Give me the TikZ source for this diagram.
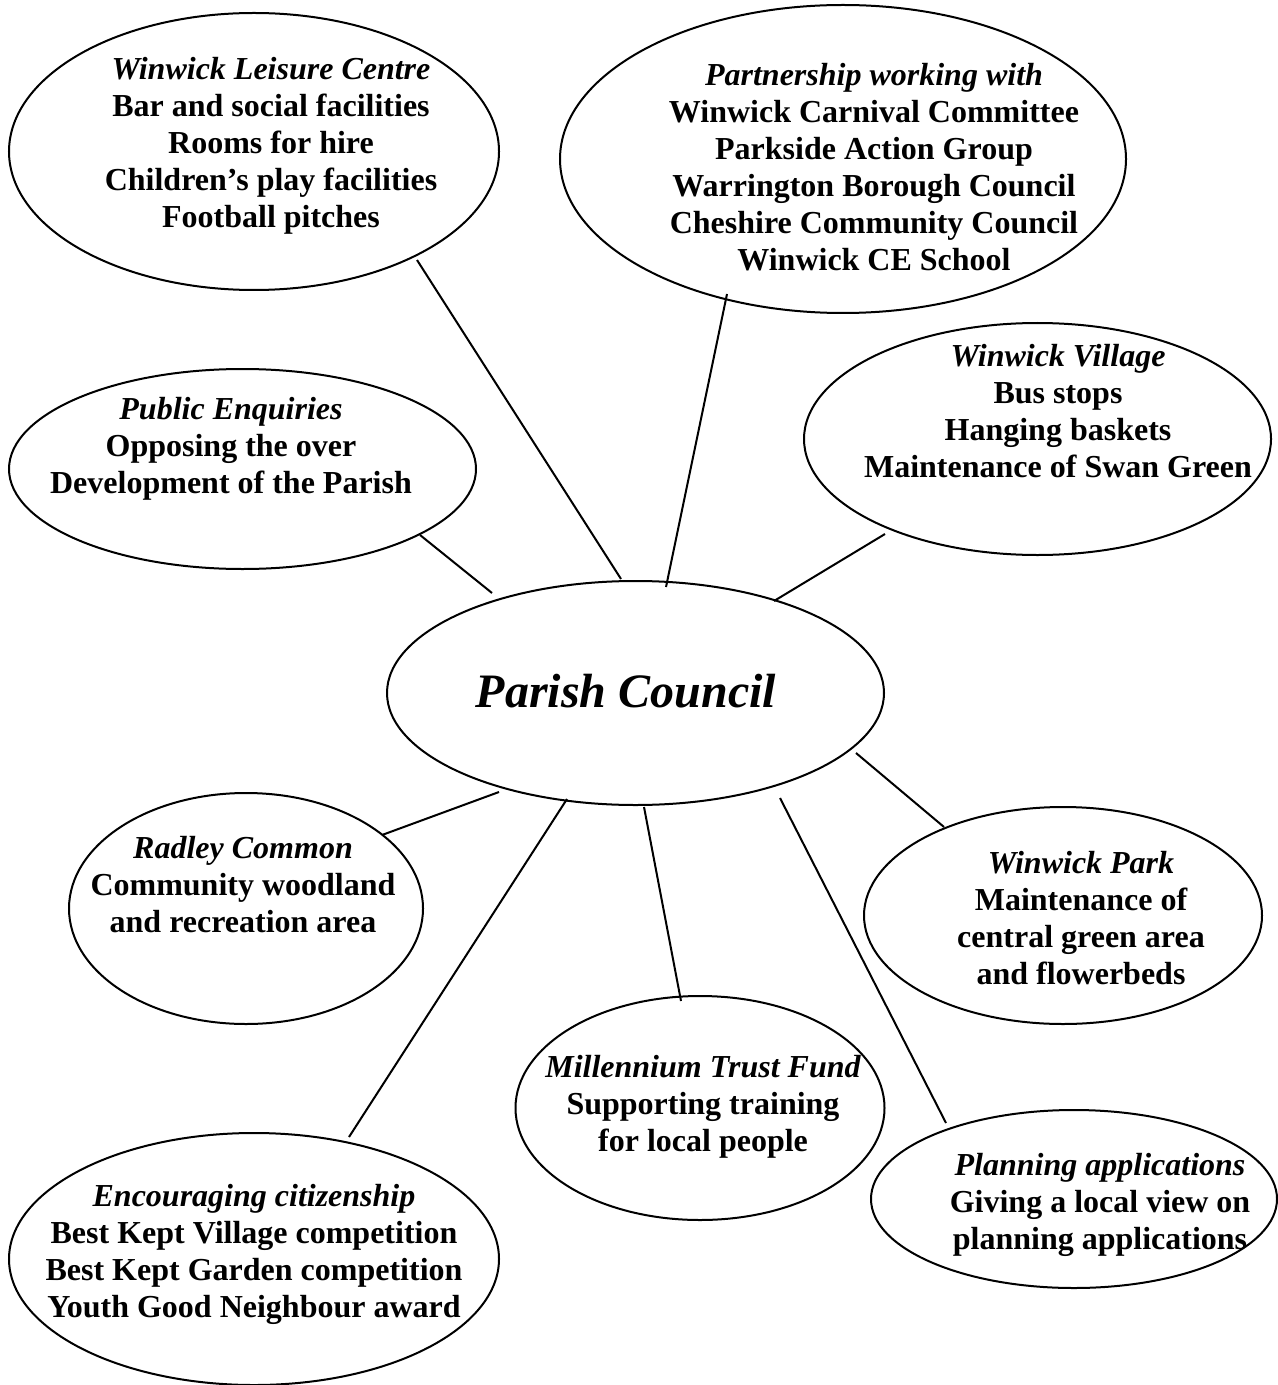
\documentclass[tikz,border=0pt]{standalone}
\usepackage{fontspec}
\setmainfont{Liberation Serif}
\usetikzlibrary{shapes.geometric}
\tikzset{
  oval/.style={draw, ellipse, line width=1pt, inner sep=0pt},
  hd/.style={font=\fontsize{16}{18}\selectfont\bfseries\itshape, anchor=base, inner sep=0pt},
  bd/.style={font=\fontsize{16}{18}\selectfont\bfseries, anchor=base, inner sep=0pt},
  conn/.style={line width=1pt},
}
\newcommand\ovlines[5]{%
  \node[hd] (#1-0) at (#2,#3) {#4};
  \foreach \t [count=\i] in {#5} {\node[bd] (#1-\i) at (#2, #3+\i*37) {\t};}
}
\begin{document}
\begin{tikzpicture}[x=0.5pt,y=-0.5pt]
\useasboundingbox (0,0) rectangle (1278,1385);
% ellipses
\node[oval, minimum width=245pt, minimum height=138.5pt] (leis) at (254,151.5) {};
\node[oval, minimum width=283pt, minimum height=154pt] (part) at (843,159) {};
\node[oval, minimum width=233.5pt, minimum height=100pt] (pub) at (242.5,469) {};
\node[oval, minimum width=233.5pt, minimum height=116pt] (vill) at (1037.5,439) {};
\node[oval, minimum width=248.5pt, minimum height=112pt] (pc) at (635.5,693) {};
\node[oval, minimum width=177pt, minimum height=115.5pt] (rad) at (246,908.5) {};
\node[oval, minimum width=199pt, minimum height=108.5pt] (park) at (1063,915.5) {};
\node[oval, minimum width=184.5pt, minimum height=112pt] (mill) at (700,1108) {};
\node[oval, minimum width=203pt, minimum height=89pt] (plan) at (1074,1199) {};
\node[oval, minimum width=245pt, minimum height=126pt] (enc) at (254,1259) {};
% texts
\ovlines{tleis}{271}{80}{Winwick Leisure Centre}{Bar and social facilities,Rooms for hire,Children’s play facilities,Football pitches}
\ovlines{tpart}{874}{86}{Partnership working with}{Winwick Carnival Committee,Parkside Action Group,Warrington Borough Council,Cheshire Community Council,Winwick CE School}
\ovlines{tpub}{231}{419}{Public Enquiries}{Opposing the over,Development of the Parish}
\ovlines{tvill}{1058}{366}{Winwick Village}{Bus stops,Hanging baskets,Maintenance of Swan Green}
\ovlines{trad}{243}{858}{Radley Common}{Community woodland,and recreation area}
\ovlines{tpark}{1081}{873}{Winwick Park}{Maintenance of,central green area,and flowerbeds}
\ovlines{tmill}{703}{1077}{Millennium Trust Fund}{Supporting training,for local people}
\ovlines{tplan}{1100}{1175}{Planning applications}{Giving a local view on,planning applications}
\ovlines{tenc}{254}{1206}{Encouraging citizenship}{Best Kept Village competition,Best Kept Garden competition,Youth Good Neighbour award}
\node[font=\fontsize{24}{28}\selectfont\bfseries\itshape, anchor=base, inner sep=0pt] (tpc) at (626,707) {Parish Council};
% connector ends
\coordinate (leis-a) at (417,260); \coordinate (leis-b) at (621,579);
\coordinate (part-a) at (727,294); \coordinate (part-b) at (666,587);
\coordinate (pub-a) at (420,535);  \coordinate (pub-b) at (492,593);
\coordinate (vill-a) at (885,534); \coordinate (vill-b) at (774,601);
\coordinate (rad-a) at (382,835);  \coordinate (rad-b) at (499,792);
\coordinate (enc-a) at (349,1137); \coordinate (enc-b) at (567,799);
\coordinate (mill-a) at (681,1001); \coordinate (mill-b) at (644,807);
\coordinate (plan-a) at (946,1123); \coordinate (plan-b) at (780,798);
\coordinate (park-a) at (944,827); \coordinate (park-b) at (856,753);
\foreach \n in {leis,part,pub,vill,rad,enc,mill,plan,park}
  \draw[conn] (\n-a) -- (\n-b);
\end{tikzpicture}
\end{document}
